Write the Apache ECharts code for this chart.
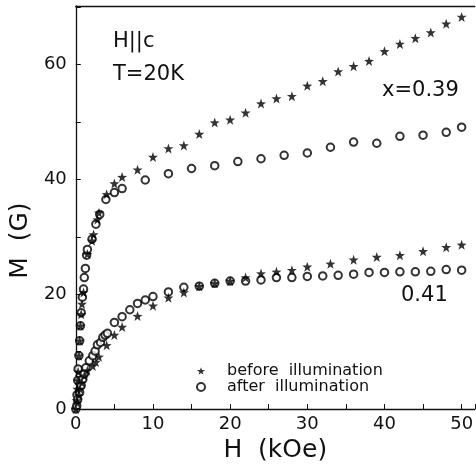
<!DOCTYPE html>
<html>
<head>
<meta charset="utf-8">
<script src="https://cdn.jsdelivr.net/npm/echarts@6/dist/echarts.min.js"></script>
<style>html,body{margin:0;padding:0;background:#fff;}#c{width:476px;height:468px;}</style>
</head>
<body>
<div id="c"></div>
<script>
// x = 0.39, before illumination (stars)
const upBeforeH = [0.1,0.2,0.25,0.3,0.4,0.5,0.6,0.7,0.8,1.0,1.5,2.1,2.3,2.8,3.0,4,5,6,8,10,12,14,16,18,20,22,24,26,28,30,32,34,36,38,40,42,44,46,48,50];
const upBeforeM = [1.5,3.5,5.0,6.5,9.3,11.9,14.5,16.5,18.3,20.3,27.0,29.3,30.4,33.0,34.2,37.4,39.3,40.4,41.7,43.9,45.4,45.9,47.9,49.9,50.4,51.6,53.2,54.1,54.5,56.3,57.1,58.8,59.7,60.6,62.3,63.6,64.6,65.6,67.1,68.3];
// x = 0.39, after illumination (circles)
const upAfterH = [0.15,0.25,0.3,0.4,0.5,0.6,0.7,0.85,1.0,1.1,1.24,1.4,1.5,2.1,2.6,3.1,3.9,5,6,9,12,15,18,21,24,27,30,33,36,39,42,45,48,50];
const upAfterM = [2.5,5.0,7.0,9.3,11.9,14.5,16.8,19.5,20.9,22.9,24.5,26.8,27.8,29.6,32.2,33.9,36.5,37.7,38.4,39.9,41.0,41.9,42.4,43.1,43.6,44.2,44.6,45.6,46.5,46.3,47.5,47.7,48.2,49.1];
// x = 0.41, before illumination (stars)
const lowBeforeH = [0,0.2,0.4,0.55,0.8,1.1,1.5,2.2,2.6,3.0,4,5,6,8,10,12,14,16,18,20,22,24,26,28,30,33,36,39,42,45,48,50];
const lowBeforeM = [0,1.1,2.4,3.5,4.6,5.8,6.7,7.5,8.2,9.1,11.1,12.9,14.3,16.2,18.0,19.4,20.3,21.4,21.9,22.3,22.9,23.6,23.9,24.2,24.8,25.3,26.0,26.5,26.8,27.5,28.2,28.6];
// x = 0.41, after illumination (circles)
const lowAfterH = [0,0.13,0.25,0.5,0.7,0.9,1.1,1.3,1.75,2.2,2.5,2.8,3.2,3.5,3.8,4.1,5,6,7,8,9,10,12,14,16,18,20,22,24,26,28,30,32,34,36,38,40,42,44,46,48,50];
const lowAfterM = [0,0.6,1.7,2.9,4.1,5.2,6.1,7.2,8.4,9.3,10.1,11.2,11.6,12.5,12.9,13.2,15.1,16.1,17.3,18.4,19.0,19.6,20.4,21.2,21.4,21.9,22.3,22.3,22.5,22.9,22.9,23.1,23.2,23.3,23.5,23.8,23.8,23.9,23.9,24.0,24.3,24.2];

const legendNames = ['before  illumination','after  illumination'];
const xTitle = 'H  (kOe)';
const yTitle = 'M  (G)';

const zip = (a,b) => a.map((v,i)=>[v,b[i]]);
const STAR = 'path://M0,-10L2.35,-3.24L9.51,-3.09L3.8,1.24L5.88,8.09L0,4L-5.88,8.09L-3.8,1.24L-9.51,-3.09L-2.35,-3.24Z';
const FONT = 'DejaVu Sans';

const chart = echarts.init(document.getElementById('c'), null, {renderer:'canvas'});
const circleStyle = {color:'#000', borderColor:'#000', borderWidth:1};
const starStyle = {color:'#000'};
chart.setOption({
  animation:false,
  backgroundColor:'#fff',
  grid:{left:73,right:0,top:6,bottom:58},
  legend:{
    orient:'vertical', left:191, top:358, itemGap:0, itemWidth:8, itemHeight:8,
    data:[{name:legendNames[0], icon:STAR},{name:legendNames[1], icon:'emptyCircle'}],
    textStyle:{fontFamily:FONT, fontSize:16, color:'#111', padding:[0,0,0,17], lineHeight:16}
  },
  xAxis:[{
    type:'value', min:0, max:51.7, interval:10,
    name:xTitle, nameLocation:'middle', nameGap:26,
    nameTextStyle:{fontFamily:FONT, fontSize:25, color:'#111'},
    axisLine:{show:true, onZero:false, lineStyle:{color:'#111', width:1.3}},
    axisTick:{show:true, inside:true, length:5, lineStyle:{color:'#111'}},
    minorTick:{show:true, splitNumber:2, length:5, lineStyle:{color:'#111'}},
    splitLine:{show:false},
    axisLabel:{fontFamily:FONT, fontSize:18, color:'#111', margin:6, showMaxLabel:false}
  },{
    type:'value', position:'top', min:0, max:51.7,
    axisLine:{show:true, onZero:false, lineStyle:{color:'#111', width:1.3}},
    axisTick:{show:false}, axisLabel:{show:false}, splitLine:{show:false}
  }],
  yAxis:{
    type:'value', min:0, max:70.2, interval:20,
    name:yTitle, nameLocation:'middle', nameGap:38, nameRotate:90,
    nameTextStyle:{fontFamily:FONT, fontSize:25, color:'#111', padding:[0,66,0,0]},
    axisLine:{show:true, onZero:false, lineStyle:{color:'#111', width:1.3}},
    axisTick:{show:true, inside:true, length:5, lineStyle:{color:'#111'}},
    minorTick:{show:true, splitNumber:2, length:5, lineStyle:{color:'#111'}},
    splitLine:{show:false},
    axisLabel:{fontFamily:FONT, fontSize:18, color:'#111', margin:9, showMaxLabel:false}
  },
  graphic:[
    {type:'text', left:113, top:31, style:{text:'H||c', font:'21px "DejaVu Sans"', fill:'#111'}},
    {type:'text', left:113, top:64, style:{text:'T=20K', font:'21px "DejaVu Sans"', fill:'#111'}},
    {type:'text', left:382, top:80, style:{text:'x=0.39', font:'21px "DejaVu Sans"', fill:'#111'}},
    {type:'text', left:401, top:285, style:{text:'0.41', font:'21px "DejaVu Sans"', fill:'#111'}}
  ],
  series:[
    {name:legendNames[1], type:'scatter', symbol:'emptyCircle', symbolSize:7.5, itemStyle:circleStyle, data:zip(upAfterH, upAfterM)},
    {name:legendNames[1], type:'scatter', symbol:'emptyCircle', symbolSize:7.5, itemStyle:circleStyle, data:zip(lowAfterH, lowAfterM)},
    {name:legendNames[0], type:'scatter', symbol:STAR, symbolSize:10, itemStyle:starStyle, data:zip(upBeforeH, upBeforeM)},
    {name:legendNames[0], type:'scatter', symbol:STAR, symbolSize:10, itemStyle:starStyle, data:zip(lowBeforeH, lowBeforeM)}
  ]
});
</script>
</body>
</html>
